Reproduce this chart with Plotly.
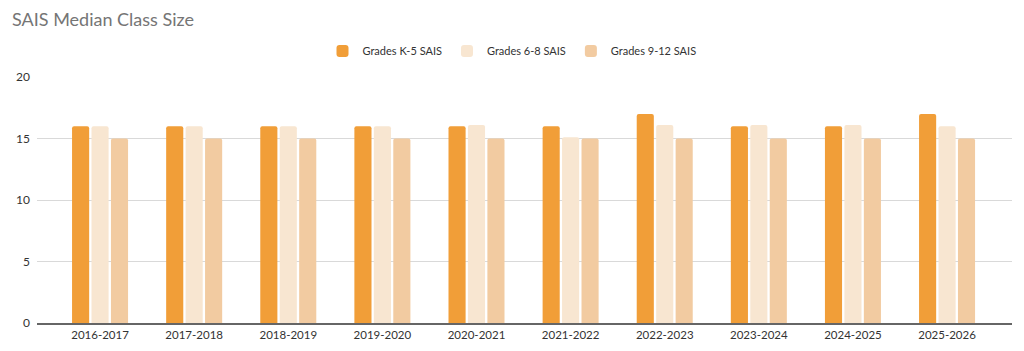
import plotly.graph_objects as go

years = ["2016-2017", "2017-2018", "2018-2019", "2019-2020", "2020-2021",
         "2021-2022", "2022-2023", "2023-2024", "2024-2025", "2025-2026"]
k5 = [16, 16, 16, 16, 16, 16, 17, 16, 16, 17]
g68 = [16, 16, 16, 16, 16.1, 15.1, 16.1, 16.1, 16.1, 16]
g912 = [15, 15, 15, 15, 15, 15, 15, 15, 15, 15]

series = [
    ("Grades K-5 SAIS", k5, "#F19E38"),
    ("Grades 6-8 SAIS", g68, "#F8E6D1"),
    ("Grades 9-12 SAIS", g912, "#F2CBA1"),
]

FONT = "Lato"

fig = go.Figure()
for name, vals, color in series:
    fig.add_trace(go.Bar(x=years, y=vals, name=name, marker_color=color,
                         marker_line_width=0, hoverinfo="x+y+name"))

fig.update_layout(
    width=1024, height=351,
    margin=dict(l=37, r=12, t=77, b=28, autoexpand=False),
    paper_bgcolor="white", plot_bgcolor="white",
    font=dict(family=FONT, size=11, color="#333333"),
    title=dict(text="SAIS Median Class Size", x=12 / 1024, xanchor="left",
               xref="container", y=1 - 20 / 351, yanchor="middle",
               yref="container",
               font=dict(family=FONT, size=18, color="#757575")),
    barmode="group", bargap=0.38, bargroupgap=0.12, barcornerradius=2,
    legend=dict(orientation="h", xref="container", yref="container",
                x=0.5, xanchor="center", y=1 - 51 / 351, yanchor="middle",
                font=dict(family=FONT, size=11, color="#333333"),
                itemclick=False, traceorder="normal", itemwidth=30),
    xaxis=dict(range=[-0.67, 9.69], showgrid=False, ticks="",
               showline=True, linecolor="#666666", linewidth=1.5,
               tickfont=dict(family=FONT, size=11.5, color="#333333")),
    yaxis=dict(range=[0, 20], tickvals=[0, 5, 10, 15, 20], showgrid=True,
               gridcolor="#D9D9D9", gridwidth=1, zeroline=False,
               showline=False, ticks="", ticklabelstandoff=6,
               tickfont=dict(family=FONT, size=12, color="#333333")),
)

fig.write_html("out.html")
